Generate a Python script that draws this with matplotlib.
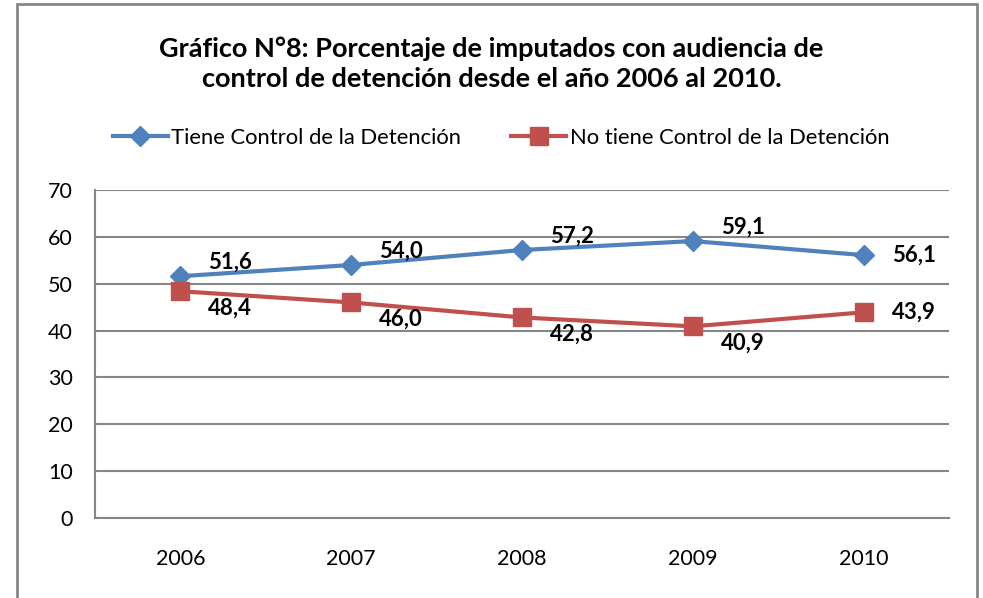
import matplotlib.pyplot as plt
from matplotlib.patches import Rectangle

# Datos del gráfico
anios = ["2006", "2007", "2008", "2009", "2010"]
con_control = [51.6, 54.0, 57.2, 59.1, 56.1]
sin_control = [48.4, 46.0, 42.8, 40.9, 43.9]
serie_con = "Tiene Control de la Detención"
serie_sin = "No tiene Control de la Detención"
titulo = "Gráfico N°8: Porcentaje de imputados con audiencia de\ncontrol de detención desde el año 2006 al 2010."

azul = "#4F81BD"
rojo = "#C0504D"
gris = "#868686"

plt.rcParams["font.family"] = ["Lato", "DejaVu Sans"]

fig = plt.figure(figsize=(9.83, 5.98), dpi=100)

# marco exterior del gráfico (estilo Excel)
marco = Rectangle((17 / 983, -0.05), 960 / 983, 1.05 - 4 / 598,
                  transform=fig.transFigure, fill=False,
                  edgecolor=gris, linewidth=2)
fig.patches.append(marco)

ax = fig.add_axes([95 / 983, 1 - 518 / 598, 854 / 983, 328 / 598])

x = list(range(len(anios)))
l1, = ax.plot(x, con_control, color=azul, lw=3, marker="D", markersize=10,
              label=serie_con, zorder=3)
l2, = ax.plot(x, sin_control, color=rojo, lw=3, marker="s", markersize=13,
              label=serie_sin, zorder=3)

# etiquetas de datos
for i, v in enumerate(con_control):
    dy = 0 if i == len(anios) - 1 else 10
    ax.annotate(f"{v:.1f}".replace(".", ","), (i, v), xytext=(36, dy),
                textcoords="offset points", ha="center", va="center",
                fontsize=16, fontweight="bold")
for i, v in enumerate(sin_control):
    dy = 0 if i == len(anios) - 1 else -12
    ax.annotate(f"{v:.1f}".replace(".", ","), (i, v), xytext=(36, dy),
                textcoords="offset points", ha="center", va="center",
                fontsize=16, fontweight="bold")

ax.set_xlim(-0.5, len(anios) - 0.5)
ax.set_ylim(0, 70)
ax.set_yticks(range(0, 71, 10))
ax.set_xticks(x)
ax.set_xticklabels(anios)
ax.tick_params(axis="both", length=0, labelsize=15.5)
ax.tick_params(axis="x", pad=22)
ax.tick_params(axis="y", pad=16)
ax.grid(axis="y", color=gris, lw=1.5)
ax.set_axisbelow(True)
for lado in ["top", "right"]:
    ax.spines[lado].set_visible(False)
for lado in ["left", "bottom"]:
    ax.spines[lado].set_color(gris)
    ax.spines[lado].set_linewidth(1.5)

fig.text(0.5, 1 - 64 / 598, titulo, ha="center", va="center",
         fontsize=19.5, fontweight="bold", linespacing=1.32)

fig.legend(handles=[l1, l2], loc="center", bbox_to_anchor=(501 / 983, 1 - 138 / 598),
           ncol=2, frameon=False, fontsize=15.8, handlelength=2.5,
           handletextpad=0.15, columnspacing=2.3)

fig.savefig("out.png", dpi=100)
